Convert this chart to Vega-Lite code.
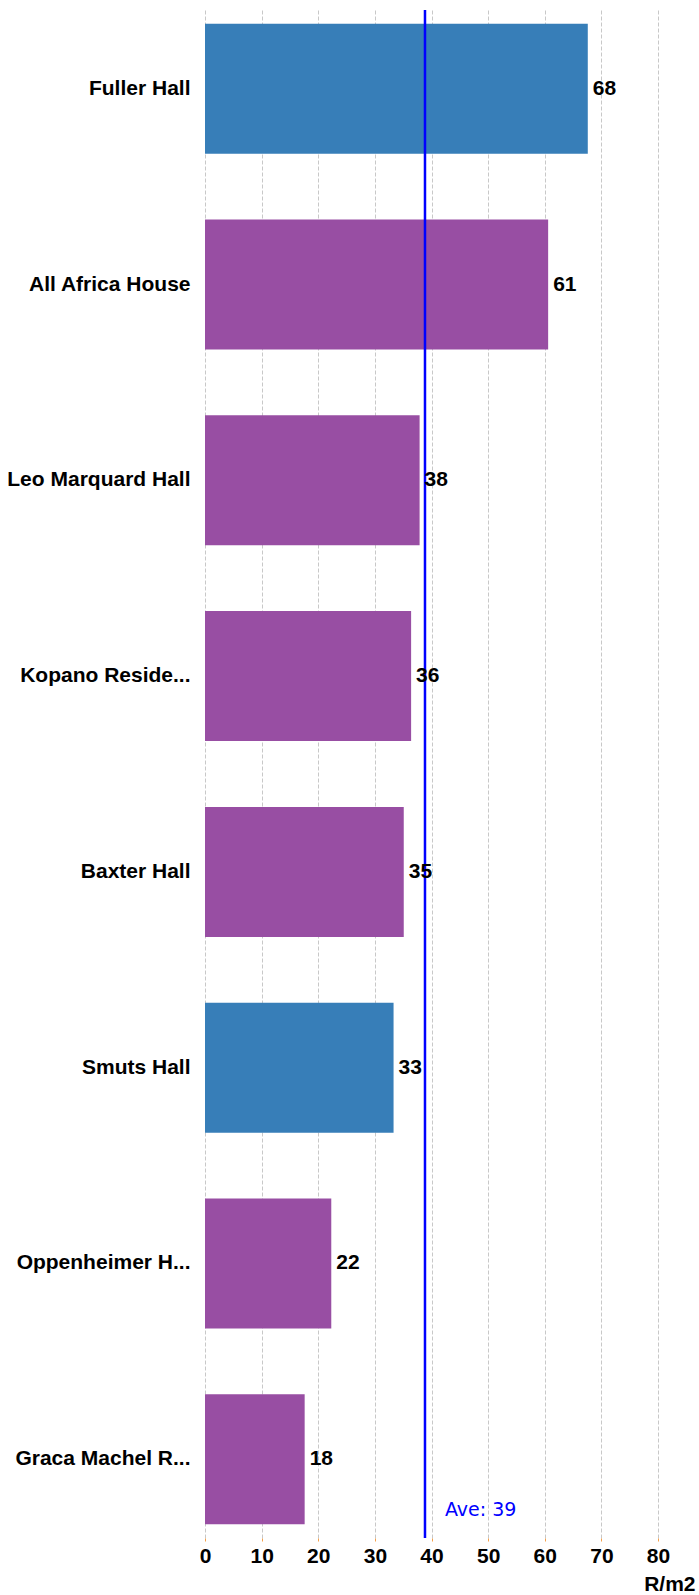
{
  "$schema": "https://vega.github.io/schema/vega-lite/v6.json",
  "autosize": {"type": "none"},
  "padding": {"left": 205, "top": 10, "right": 41, "bottom": 57},
  "width": 453,
  "height": 1528,
  "background": "white",
  "config": {"view": {"stroke": null}, "font": "Liberation Sans"},
  "data": {
    "values": [
      {"hall": "Fuller Hall", "value": 67.6, "label": "68", "group": "blue"},
      {"hall": "All Africa House", "value": 60.6, "label": "61", "group": "purple"},
      {"hall": "Leo Marquard Hall", "value": 37.9, "label": "38", "group": "purple"},
      {"hall": "Kopano Reside...", "value": 36.4, "label": "36", "group": "purple"},
      {"hall": "Baxter Hall", "value": 35.1, "label": "35", "group": "purple"},
      {"hall": "Smuts Hall", "value": 33.3, "label": "33", "group": "blue"},
      {"hall": "Oppenheimer H...", "value": 22.3, "label": "22", "group": "purple"},
      {"hall": "Graca Machel R...", "value": 17.6, "label": "18", "group": "purple"}
    ]
  },
  "layer": [
    {
      "mark": {"type": "bar"},
      "encoding": {
        "y": {
          "field": "hall",
          "type": "nominal",
          "sort": null,
          "scale": {"paddingInner": 0.336, "paddingOuter": 0.07},
          "axis": {
            "title": null,
            "ticks": false,
            "domain": false,
            "labelPadding": 15,
            "labelFontSize": 21,
            "labelFontWeight": "bold",
            "labelColor": "#000000",
            "labelFont": "Liberation Sans",
            "labelLimit": 300
          }
        },
        "x": {
          "field": "value",
          "type": "quantitative",
          "scale": {"domain": [0, 80], "nice": false},
          "axis": {
            "values": [0, 10, 20, 30, 40, 50, 60, 70, 80],
            "title": "R/m2",
            "titleFontSize": 21,
            "titleFontWeight": "bold",
            "titleColor": "#000000",
            "titleFont": "Liberation Sans",
            "titleAlign": "right",
            "titleBaseline": "middle",
            "titleAnchor": "end",
            "titleX": 490,
            "titleY": 46,
            "labelFontSize": 21,
            "labelFontWeight": "bold",
            "labelColor": "#000000",
            "labelFont": "Liberation Sans",
            "labelFlush": false,
            "labelOverlap": false,
            "labelPadding": 4,
            "domain": false,
            "tickSize": 3,
            "tickColor": "#f5a04a",
            "grid": true,
            "gridColor": "#c8c8c8",
            "gridDash": [4, 2],
            "gridWidth": 1
          }
        },
        "color": {
          "field": "group",
          "type": "nominal",
          "scale": {"domain": ["blue", "purple"], "range": ["#377eb8", "#984ea3"]},
          "legend": null
        }
      }
    },
    {
      "transform": [{"aggregate": [{"op": "mean", "field": "value", "as": "ave"}]}],
      "mark": {"type": "rule", "color": "#0000ff", "strokeWidth": 2.5},
      "encoding": {
        "x": {"field": "ave", "type": "quantitative"}
      }
    },
    {
      "mark": {"type": "text", "align": "left", "baseline": "middle", "dx": 5, "fontSize": 21, "fontWeight": "bold", "color": "#000000", "font": "Liberation Sans"},
      "encoding": {
        "y": {"field": "hall", "type": "nominal", "sort": null},
        "x": {"field": "value", "type": "quantitative"},
        "text": {"field": "label"}
      }
    },
    {
      "transform": [{"aggregate": [{"op": "mean", "field": "value", "as": "ave"}]}],
      "mark": {"type": "text", "align": "left", "baseline": "middle", "dx": 20, "dy": 51, "fontSize": 19, "color": "#0000ff", "font": "DejaVu Sans"},
      "encoding": {
        "x": {"field": "ave", "type": "quantitative"},
        "y": {"datum": "Graca Machel R..."},
        "text": {"value": "Ave: 39"}
      }
    }
  ]
}
